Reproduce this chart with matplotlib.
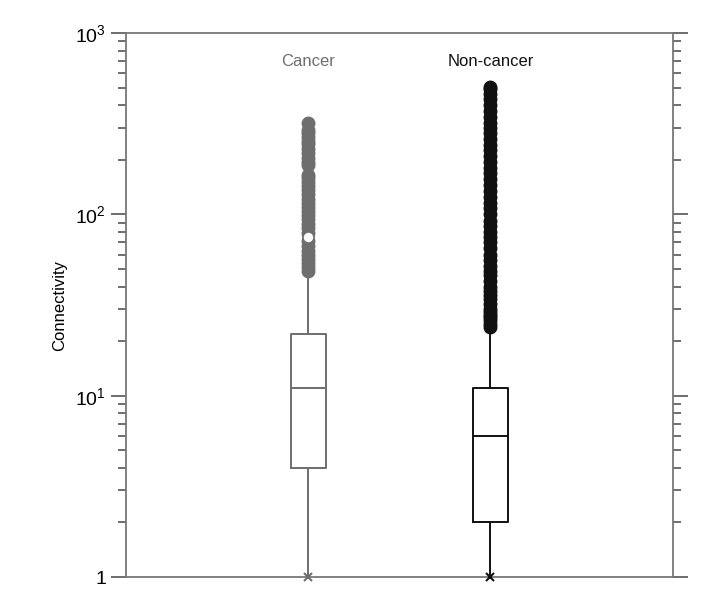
import math
import matplotlib
matplotlib.use('Agg')
import matplotlib.pyplot as plt
from matplotlib.ticker import FixedLocator, FuncFormatter, LogLocator, NullFormatter

plt.rcParams['font.family'] = ['Liberation Sans', 'DejaVu Sans']
plt.rcParams['mathtext.fontset'] = 'custom'
plt.rcParams['mathtext.rm'] = 'Liberation Sans'
plt.rcParams['mathtext.it'] = 'Liberation Sans:italic'

# 数据
groups = ['Cancer', 'Non-cancer']
q1 = [4, 2]
median = [11, 6]
q3 = [22, 11]
whisker_low = [1, 1]
whisker_high = [47, 23]
cancer_fliers = [317, 292, 280, 268, 255, 243, 230, 218, 205, 195, 187,
                 165, 158, 150, 143, 136, 129, 122, 116, 110, 104, 99, 94,
                 89, 84, 79, 71, 67, 63, 60, 57, 54, 51, 49]
cancer_hollow = [75]
noncancer_fliers = [24, 25, 26, 27, 28, 29, 30, 32, 34, 36, 38, 40, 43, 46,
                    49, 52, 56, 60, 65, 70, 75, 80, 86, 92, 100, 108, 116,
                    125, 135, 145, 156, 168, 180, 195, 210, 225, 240, 260,
                    280, 300, 320, 345, 370, 400, 430, 460, 490, 505]
colors = ['#6e6e6e', '#111111']
positions = [1, 2]

fig = plt.figure(figsize=(7.1, 6.0), dpi=100)
ax = fig.add_axes([0.1775, 0.0383, 0.77, 0.9067])

fliers = [cancer_fliers, noncancer_fliers]
for i in range(2):
    stats = [dict(med=median[i], q1=q1[i], q3=q3[i], whislo=whisker_low[i],
                  whishi=whisker_high[i], fliers=fliers[i])]
    c = colors[i]
    ax.bxp(stats, positions=[positions[i]], widths=0.19, showcaps=False,
           boxprops=dict(color=c, linewidth=1.4),
           medianprops=dict(color=c, linewidth=1.4),
           whiskerprops=dict(color=c, linewidth=1.4),
           flierprops=dict(marker='o', markerfacecolor=c, markeredgecolor=c,
                           markersize=9, linestyle='none'))
    # 最小值处的 x 标记
    ax.plot(positions[i], whisker_low[i], marker='x', color=c, markersize=6,
            markeredgewidth=1.5, clip_on=False, zorder=5)
    ax.text(positions[i], 700, groups[i], ha='center', va='center',
            fontsize=12, color=c)

ax.plot([1] * len(cancer_hollow), cancer_hollow, 'o', markerfacecolor='white',
        markeredgecolor=colors[0], markeredgewidth=1.2, markersize=8, zorder=4)

ax.set_yscale('log')
ax.set_ylim(1, 1000)
ax.set_xlim(0.0, 3.0)
ax.set_xticks([])
ax.yaxis.set_major_locator(FixedLocator([1, 10, 100, 1000]))
ax.yaxis.set_minor_locator(LogLocator(base=10, subs=range(2, 10)))
ax.yaxis.set_minor_formatter(NullFormatter())
ax.yaxis.set_major_formatter(FuncFormatter(
    lambda v, p: '1' if v == 1 else r'$\mathregular{10^{%d}}$' % round(math.log10(v))))
ax.tick_params(axis='y', which='both', left=True, right=True, direction='out',
               colors='#555555', labelcolor='black', labelsize=14, width=1.2)
ax.tick_params(axis='y', which='major', length=11)
ax.tick_params(axis='y', which='minor', length=6)
for s in ax.spines.values():
    s.set_color('#777777')
    s.set_linewidth(1.3)
ax.set_ylabel('Connectivity', fontsize=12, labelpad=6)

plt.savefig('out.png', dpi=100)
